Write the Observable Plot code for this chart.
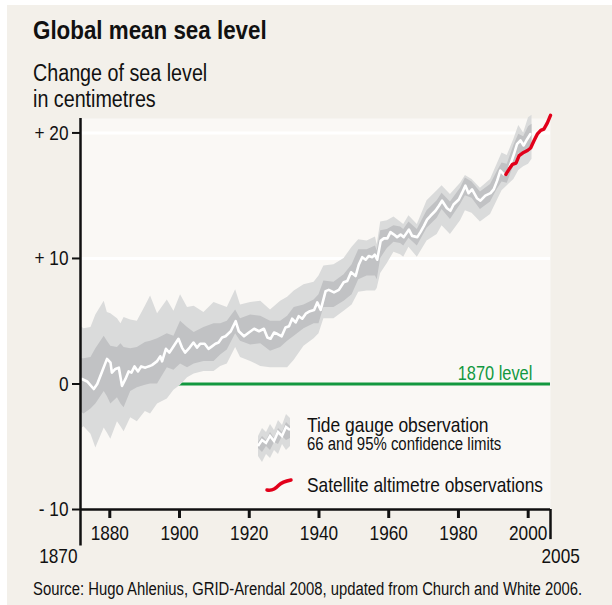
<!DOCTYPE html>
<html><head><meta charset="utf-8">
<script src="https://cdn.jsdelivr.net/npm/d3@7"></script>
<script src="https://cdn.jsdelivr.net/npm/@observablehq/plot@0.6"></script>
<style>
body{margin:0;background:#fff;}
#wrap{position:relative;width:612px;height:605px;overflow:hidden;background:#fff;font-family:"Liberation Sans",Arial,sans-serif;color:#111;}
#bg{position:absolute;left:7px;top:5px;right:0;bottom:0;background:#f3f0ea;}
.t{position:absolute;white-space:nowrap;transform-origin:0 0;}
#title{left:33px;top:17px;font-size:26px;line-height:26px;font-weight:bold;transform:scaleX(0.86);}
#sub{left:33px;top:60px;font-size:23px;line-height:26px;transform:scaleX(0.857);}
#chart{position:absolute;left:0;top:110px;}
#source{left:33px;top:580px;font-size:18px;line-height:18px;transform:scaleX(0.824);}
.lg{position:absolute;white-space:nowrap;}
</style></head>
<body>
<div id="wrap">
<div id="bg"></div>
<div id="title" class="t">Global mean sea level</div>
<div id="sub" class="t">Change of sea level<br>in centimetres</div>
<div id="chart"></div>
<svg class="lg" style="left:256px;top:410px" width="40" height="54">
  <polygon points="2,26 6,18 10,22 14,14 18,20 22,10 26,15 30,4 34,8 34,36 30,40 26,34 22,44 18,40 14,48 10,44 6,52 2,46" fill="#dadbdb"/>
  <polygon points="2,32 6,26 10,30 14,22 18,28 22,18 26,22 30,12 34,16 34,28 30,30 26,26 22,34 18,32 14,40 10,36 6,42 2,38" fill="#c1c2c4"/>
  <polyline points="2,36 6,30 10,33 14,26 18,31 22,22 26,26 30,17 34,20" fill="none" stroke="#fff" stroke-width="2.5"/>
</svg>
<div class="t" style="left:307px;top:416px;font-size:21px;line-height:18px;transform:scaleX(0.83)">Tide gauge observation</div>
<div class="t" style="left:307px;top:437px;font-size:18px;line-height:14px;transform:scaleX(0.83)">66 and 95% confidence limits</div>
<svg class="lg" style="left:264px;top:476px" width="30" height="18">
  <path d="M3,14 C9,15 12,12 15,9 C18,6 22,5 27,4" fill="none" stroke="#e2001a" stroke-width="3.5" stroke-linecap="round"/>
</svg>
<div class="t" style="left:307px;top:474px;font-size:21px;line-height:21px;transform:scaleX(0.825)">Satellite altimetre observations</div>
<div id="source" class="t">Source: Hugo Ahlenius, GRID-Arendal 2008, updated from Church and White 2006.</div>
</div>
<script>
// ---- data ----
const tideYears = [1872,1873.5,1875.4,1876.4,1877.8,1879.2,1880.2,1880.6,1881.6,1882.6,1883.5,1884.5,1885.4,1886.2,1887.1,1888.1,1889,1890.2,1891.1,1892.1,1893.5,1894.5,1895,1896.1,1897.1,1898.3,1899.7,1900.7,1901.6,1902.9,1904,1905,1905.9,1907.2,1908.3,1909.3,1910.3,1911.2,1912.2,1913.2,1914.7,1916.1,1917,1918.5,1919.9,1921.4,1922.8,1924.2,1925.2,1926.1,1927.1,1928,1929.3,1930.4,1931.4,1932.3,1933.3,1934.2,1935.2,1936.2,1937.4,1938.6,1939.5,1940.5,1941.9,1942.8,1944.3,1945.7,1947.1,1948.1,1949.2,1950.5,1951.4,1952.4,1953.4,1954.3,1955.3,1956,1956.7,1957.7,1958.6,1959.6,1960.5,1961.5,1962.4,1963.4,1964.3,1965.8,1966.7,1968.2,1969.1,1970.1,1971,1972,1973.4,1974.4,1975.3,1976.7,1977.7,1978.6,1980.1,1981,1982,1982.9,1983.9,1985.3,1986.3,1987.7,1989.2,1990.1,1991.1,1992,1993,1994,1994.9,1995.9,1996.8,1997.8,1998.7,1999.7,2000.6];
const tideValues = [0.4,0.2,-0.4,0.0,1.0,2.0,1.7,0.9,1.2,1.3,-0.15,0.4,1.0,0.9,1.4,1.0,1.4,1.3,1.4,1.5,1.8,2.2,1.8,2.8,2.5,3.0,3.6,2.9,2.5,2.9,3.3,2.9,3.2,3.2,2.8,3.0,3.2,3.3,3.7,3.8,4.2,5.0,4.2,3.8,4.1,4.4,4.2,4.4,3.7,3.6,4.1,4.0,3.8,4.5,4.6,5.2,4.9,5.4,5.2,5.6,5.8,5.9,6.5,5.9,7.4,7.5,7.3,7.5,8.1,8.2,8.9,8.6,9.5,10.1,9.9,10.2,10.1,10.3,9.9,11.4,11.6,11.6,12.1,11.9,11.7,11.9,11.7,12.3,11.8,11.7,12.1,12.6,13.1,13.4,13.8,14.2,14.6,14.0,13.8,14.3,14.7,15.2,15.8,15.2,15.5,14.8,14.6,15.0,15.2,15.5,16.2,17.0,16.7,16.8,17.5,18.3,19.1,19.4,19.0,19.5,19.9];

const bandYears = [1871.6,1872.6,1874.6,1876,1878.4,1879.3,1880.3,1882.2,1883.2,1884.1,1886,1887.9,1890.2,1891.7,1893.7,1896.5,1898.4,1900.3,1902.3,1904.2,1907,1909.9,1911.8,1913.7,1916.1,1917.5,1920.4,1923.3,1926.1,1929,1931,1932.9,1935.7,1938.6,1940,1941.4,1944.3,1947.2,1949.5,1951.4,1953.8,1956.2,1956.7,1957.7,1959.6,1961.5,1963.4,1964.3,1965.8,1968.2,1971,1973.9,1975.3,1977.7,1980.6,1982,1983.9,1986.3,1989.2,1991.1,1992.5,1994,1995.9,1997.3,1998.7,2000.1,2001.1];
const hi95 = [4.6,4.4,4.5,5.5,6.6,5.7,5.6,5.2,4.8,5.3,5.1,5.0,6.2,7.0,5.6,6.7,5.8,7.1,6.1,6.2,5.7,6.5,6.3,6.1,7.5,6.3,6.5,6.6,5.9,6.6,6.9,7.4,7.9,8.1,8.6,9.4,9.5,10.0,10.9,11.5,11.4,11.7,11.1,12.9,13.0,13.3,12.9,12.7,13.4,12.7,14.6,15.4,15.8,15.1,16.0,16.6,16.3,15.6,16.3,17.5,18.4,18.2,19.5,20.6,20.0,21.2,21.4];
const hi66 = [2.0,2.0,2.1,2.8,3.8,3.4,3.0,2.9,3.2,2.9,2.8,2.9,3.3,3.4,3.6,4.0,3.8,5.0,4.5,4.1,4.5,4.8,4.8,5.0,5.9,5.2,5.5,5.4,5.0,5.0,5.4,6.1,6.3,6.7,7.1,8.2,8.1,8.7,9.5,10.7,10.7,11.0,10.6,12.2,12.3,12.6,12.5,12.3,12.9,12.3,13.8,14.6,15.2,14.5,15.6,16.4,16.1,15.3,15.9,16.9,17.6,17.5,19.0,19.9,19.7,20.5,20.7];
const lo66 = [-2.2,-2.4,-2.0,-1.6,-0.6,-1.0,-1.6,-1.1,-1.6,-1.9,-0.6,-0.3,-0.1,0.0,0.0,1.3,1.1,1.6,1.3,1.6,1.8,1.8,2.3,2.7,4.0,3.4,3.1,3.2,2.6,2.9,3.4,3.8,4.4,4.8,4.8,6.1,6.1,6.6,7.1,8.3,8.6,8.6,8.3,10.0,10.8,11.3,11.2,11.0,11.6,11.0,12.4,13.2,13.9,13.1,14.3,15.0,14.8,13.9,14.5,15.5,16.1,16.0,17.4,18.4,18.2,18.8,19.0];
const lo95 = [-3.6,-3.4,-4.0,-5.1,-3.5,-3.9,-4.4,-3.0,-3.4,-3.8,-2.7,-3.0,-2.2,-2.4,-1.6,-1.2,-0.5,-0.1,0.5,0.8,1.0,1.0,1.4,1.6,2.9,2.1,1.8,1.4,1.3,1.3,1.3,1.9,3.0,3.6,4.0,5.2,5.2,5.8,6.3,7.3,7.4,7.4,7.6,8.8,9.6,10.5,10.3,10.1,10.9,10.1,11.4,11.9,12.6,11.9,13.0,13.8,13.6,12.9,13.5,14.6,15.4,15.8,16.3,17.0,17.3,17.5,17.9];

const satYears = [1993.6,1994.5,1995.5,1996.5,1997.4,1998.4,1999.8,2000.7,2001.7,2002.6,2003.6,2004.5,2005.5,2006.4];
const satValues = [16.7,17.1,17.5,17.6,18.2,18.4,18.6,18.8,19.4,19.9,20.2,20.3,20.8,21.4];

const xTicks = [1880,1900,1920,1940,1960,1980,2000];
const yTicks = [-10,0,10,20];
const yTickLabels = ["- 10","0","+ 10","+ 20"];
const gridLines = [10,20];
const referenceLevel = 0;
const levelLabel = "1870 level";
const levelLabelYear = 2001.2;
const startLabel = "1870", endLabel = "2005";
const xDomain = [1871.6, 2006.4];
const yDomain = [-10, 21.15];
const leftAxisBottom = -12.9, rightAxisBottom = -12.4, edgeLabelBaseline = -14.3;

// ---- build tables ----
const tide = tideYears.map((year, i) => ({year, value: tideValues[i]}));
const bands = bandYears.map((year, i) => ({year, hi95: hi95[i], hi66: hi66[i], lo66: lo66[i], lo95: lo95[i]}));
const sat = satYears.map((year, i) => ({year, value: satValues[i]}));

const green = "#12983f";
const font = '"Liberation Sans", Arial, sans-serif';

const chart = Plot.plot({
  width: 612, height: 470,
  marginLeft: 80, marginRight: 62, marginTop: 8, marginBottom: 71,
  x: {domain: xDomain},
  y: {domain: yDomain},
  style: {background: "transparent", fontFamily: font, fontSize: "21px", color: "#111", overflow: "visible"},
  marks: [
    Plot.frame({fill: "#faf8f5", stroke: "none"}),
    Plot.ruleY(gridLines, {stroke: "#ffffff", strokeWidth: 3}),
    Plot.ruleY([referenceLevel], {stroke: green, strokeWidth: 3}),
    Plot.areaY(bands, {x: "year", y1: "lo95", y2: "hi95", fill: "#dadbdb"}),
    Plot.areaY(bands, {x: "year", y1: "lo66", y2: "hi66", fill: "#c1c2c4"}),
    Plot.line(tide, {x: "year", y: "value", stroke: "#ffffff", strokeWidth: 2.6}),
    Plot.line(sat, {x: "year", y: "value", stroke: "#e2001a", strokeWidth: 3.4}),
    Plot.text([levelLabel], {x: levelLabelYear, y: referenceLevel, dy: -4, lineAnchor: "bottom", textAnchor: "end", fill: green, fontSize: 20}),
    Plot.axisY({ticks: yTicks, tickFormat: (d) => yTickLabels[yTicks.indexOf(d)], tickSize: 8, tickPadding: 4, strokeWidth: 2, fontSize: 21}),
    Plot.axisX({ticks: xTicks, tickFormat: (d) => String(d), tickSize: 9, tickPadding: 7, strokeWidth: 3, fontSize: 21, label: null}),
    Plot.ruleY([yDomain[0]], {stroke: "#111", strokeWidth: 2.5}),
    Plot.ruleX([xDomain[0]], {y1: leftAxisBottom, y2: yDomain[1], stroke: "#111", strokeWidth: 2.5}),
    Plot.ruleX([xDomain[1]], {y1: rightAxisBottom, y2: yDomain[0], stroke: "#111", strokeWidth: 2.5}),
    Plot.text([startLabel], {x: xDomain[0], y: edgeLabelBaseline, dx: -3, lineAnchor: "bottom", textAnchor: "end", fontSize: 21, fill: "#111"}),
    Plot.text([endLabel], {x: xDomain[1], y: edgeLabelBaseline, dx: -9, lineAnchor: "bottom", textAnchor: "start", fontSize: 21, fill: "#111"})
  ]
});
// condense the SVG texts horizontally (narrow typeface look), scaling each about its own anchor;
// numeric x/y attributes are folded into the transform, em offsets are left in place
chart.querySelectorAll("text").forEach((t) => {
  const xa = t.getAttribute("x"), ya = t.getAttribute("y");
  let tx = 0, ty = 0;
  if (xa !== null && xa !== "" && !isNaN(+xa)) { tx = +xa; t.removeAttribute("x"); }
  if (ya !== null && ya !== "" && !isNaN(+ya)) { ty = +ya; t.removeAttribute("y"); }
  const tr = t.getAttribute("transform") || "";
  t.setAttribute("transform", `${tr} translate(${tx},${ty}) scale(0.82,1)`);
});
document.getElementById("chart").appendChild(chart);
</script>
</body></html>
